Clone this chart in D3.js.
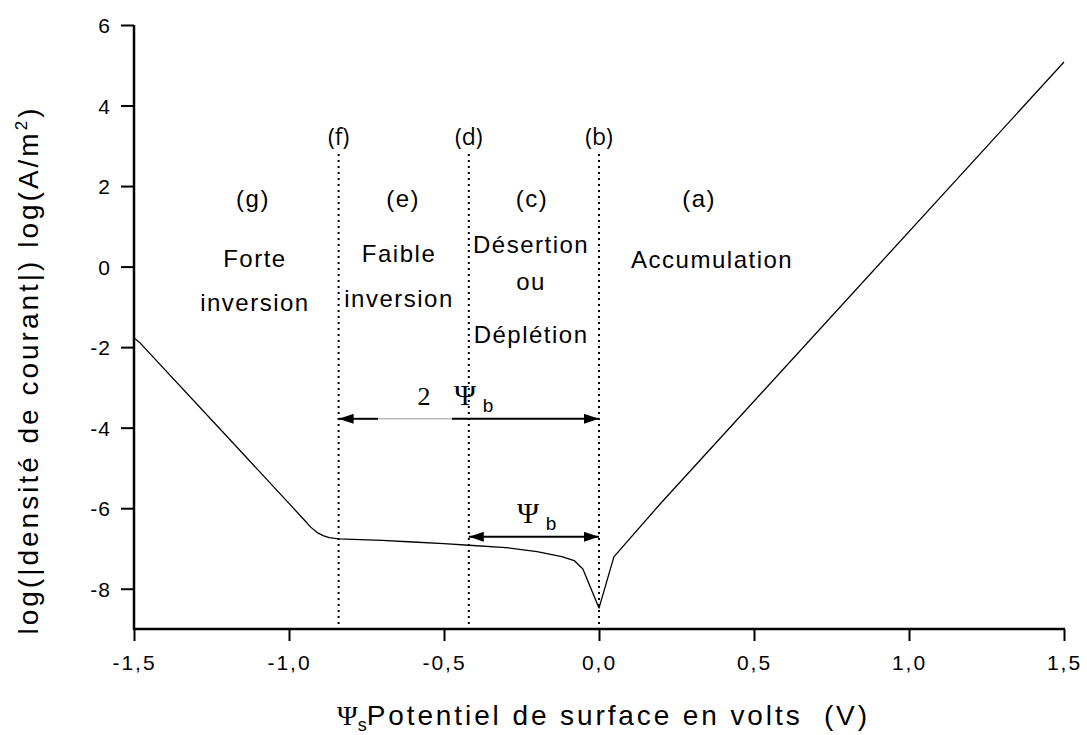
<!DOCTYPE html>
<html>
<head>
<meta charset="utf-8">
<script src="https://cdn.jsdelivr.net/npm/d3@7"></script>
<style>
  body { margin: 0; background: #fff; }
  svg { display: block; }
  text { font-family: "Liberation Sans", Arial, sans-serif; fill: #000; }
</style>
</head>
<body>
<svg id="chart" width="1087" height="735"></svg>
<script>
// ---- data ----
const curveX = [-1.5, -1.48, -1.2, -1.0, -0.95, -0.93, -0.91, -0.89, -0.87, -0.84, -0.7, -0.6, -0.5, -0.42, -0.3, -0.2, -0.12, -0.08, -0.052, 0.0, 0.048, 0.1, 0.2, 1.5];
const curveY = [-1.77, -1.9, -4.22, -5.88, -6.3, -6.47, -6.6, -6.68, -6.73, -6.76, -6.8, -6.84, -6.88, -6.92, -6.98, -7.08, -7.2, -7.3, -7.51, -8.48, -7.21, -6.75, -5.87, 5.08];

const xMajorTicks = [-1.5, -1.0, -0.5, 0.0, 0.5, 1.0, 1.5];
const xTickLabels = ["-1,5", "-1,0", "-0,5", "0,0", "0,5", "1,0", "1,5"];
const xMinorTicks = [-1.25, -0.75, -0.25, 0.25, 0.75, 1.25];
const yMajorTicks = [-8, -6, -4, -2, 0, 2, 4, 6];
const yTickLabels = ["-8", "-6", "-4", "-2", "0", "2", "4", "6"];
const yMinorTicks = [-9, -7, -5, -3, -1, 1, 3, 5];

const boundaryX = [-0.84, -0.42, 0.0];
const boundaryLabels = ["(f)", "(d)", "(b)"];

const regionLetters = ["(g)", "(e)", "(c)", "(a)"];
const regionLetterX = [-1.116, -0.632, -0.216, 0.323];
const regionLines = [["Forte", "inversion"], ["Faible", "inversion"], ["Désertion", "ou", "Déplétion"], ["Accumulation"]];
const regionLineX = [-1.11, -0.645, -0.219, 0.365];

// arrows: [x1, x2, y]
const arrowSpans = [[-0.84, 0.0, -3.78], [-0.42, 0.0, -6.71]];

// ---- layout ----
const svg = d3.select("#chart");
const x = d3.scaleLinear().domain([-1.5, 1.5]).range([134, 1064]);
const y = d3.scaleLinear().domain([-9, 6]).range([629, 25]);

const defs = svg.append("defs");
defs.append("marker").attr("id", "head").attr("viewBox", "0 0 15 10")
  .attr("refX", 15).attr("refY", 5).attr("markerWidth", 15).attr("markerHeight", 10)
  .attr("markerUnits", "userSpaceOnUse").attr("orient", "auto-start-reverse")
  .append("path").attr("d", "M0,0 L15,5 L0,10 Z").attr("fill", "#000");

// dotted boundary lines
svg.selectAll("line.bound").data(boundaryX).enter().append("line")
  .attr("x1", d => x(d)).attr("x2", d => x(d))
  .attr("y1", 154).attr("y2", y(-9))
  .attr("stroke", "#000").attr("stroke-width", 2).attr("stroke-dasharray", "2,4");

svg.selectAll("text.blab").data(boundaryX).enter().append("text")
  .attr("x", d => x(d)).attr("y", 145).attr("text-anchor", "middle")
  .style("font-family", "'Open Sans', 'DejaVu Sans', sans-serif")
  .style("font-size", "23px").text((d, i) => boundaryLabels[i]);

// region labels
svg.selectAll("text.rl").data(regionLetterX).enter().append("text")
  .attr("x", d => x(d)).attr("y", 207).attr("text-anchor", "middle")
  .style("font-size", "24px").style("letter-spacing", "1.5px")
  .text((d, i) => regionLetters[i]);

const lineYs = [[267, 311], [262, 307], [253, 290, 343], [268]];
regionLines.forEach((lines, i) => {
  lines.forEach((t, j) => {
    svg.append("text").attr("x", x(regionLineX[i])).attr("y", lineYs[i][j])
      .attr("text-anchor", "middle").style("font-size", "24px").style("letter-spacing", "1.5px")
      .text(t);
  });
});

// curve
const pts = curveX.map((v, i) => [v, curveY[i]]);
svg.append("path").datum(pts)
  .attr("d", d3.line().x(d => x(d[0])).y(d => y(d[1])))
  .attr("fill", "none").attr("stroke", "#000").attr("stroke-width", 1.3)
  .attr("stroke-linejoin", "round");

// arrows
const a0 = arrowSpans[0];
svg.append("line").attr("x1", x(a0[0]) + 10).attr("x2", x(a0[0])).attr("y1", y(a0[2])).attr("y2", y(a0[2]))
  .attr("stroke", "#000").attr("stroke-width", 2).attr("marker-end", "url(#head)");
svg.append("line").attr("x1", x(a0[0]) + 10).attr("x2", 378).attr("y1", y(a0[2])).attr("y2", y(a0[2]))
  .attr("stroke", "#000").attr("stroke-width", 2);
svg.append("line").attr("x1", 378).attr("x2", 452).attr("y1", y(a0[2])).attr("y2", y(a0[2]))
  .attr("stroke", "#999").attr("stroke-width", 1);
svg.append("line").attr("x1", 452).attr("x2", x(a0[1])).attr("y1", y(a0[2])).attr("y2", y(a0[2]))
  .attr("stroke", "#000").attr("stroke-width", 2).attr("marker-end", "url(#head)");

const a1 = arrowSpans[1];
svg.append("line").attr("x1", x(a1[0])).attr("x2", x(a1[1])).attr("y1", y(a1[2])).attr("y2", y(a1[2]))
  .attr("stroke", "#000").attr("stroke-width", 2)
  .attr("marker-start", "url(#head)").attr("marker-end", "url(#head)");

// arrow labels
const serif = "'Liberation Serif', 'Times New Roman', serif";
svg.append("text").attr("x", 424).attr("y", 405).attr("text-anchor", "middle")
  .style("font-family", serif).style("font-size", "26px").text("2");
svg.append("text").attr("x", 465).attr("y", 405).attr("text-anchor", "middle")
  .style("font-family", serif).style("font-size", "30px").text("Ψ");
svg.append("text").attr("x", 488).attr("y", 412).attr("text-anchor", "middle")
  .style("font-size", "19px").text("b");
svg.append("text").attr("x", 528).attr("y", 523).attr("text-anchor", "middle")
  .style("font-family", serif).style("font-size", "30px").text("Ψ");
svg.append("text").attr("x", 551).attr("y", 530).attr("text-anchor", "middle")
  .style("font-size", "19px").text("b");

// axes
const gx = svg.append("g").attr("transform", `translate(0,${y(-9)})`);
gx.call(d3.axisBottom(x).tickValues(xMinorTicks).tickSize(6).tickFormat("").tickSizeOuter(0));
gx.call(d3.axisBottom(x).tickValues(xMajorTicks).tickSize(12).tickSizeOuter(0)
  .tickFormat((d, i) => xTickLabels[i]).tickPadding(8));
gx.selectAll("path.domain").attr("stroke-width", 2.5).attr("d", `M${x(-1.5) - 1},0H${x(1.5) + 1}`);
gx.selectAll("line").attr("stroke-width", 2);
gx.selectAll("text").attr("dy", null).attr("y", 41)
  .style("font-size", "21px").style("letter-spacing", "2px").style("font-family", "'Liberation Sans', Arial, sans-serif");

const gy = svg.append("g").attr("transform", `translate(${x(-1.5)},0)`);
gy.call(d3.axisLeft(y).tickValues(yMinorTicks).tickSize(7).tickFormat("").tickSizeOuter(0));
gy.call(d3.axisLeft(y).tickValues(yMajorTicks).tickSize(13).tickSizeOuter(0)
  .tickFormat((d, i) => yTickLabels[i]).tickPadding(10));
gy.selectAll("path.domain").attr("stroke-width", 2.5).attr("d", `M0,${y(6)}V${y(-9) + 1}`);
gy.selectAll("line").attr("stroke-width", 2);
gy.selectAll("text").attr("x", -23).attr("dy", "0.36em")
  .style("font-size", "21px").style("letter-spacing", "1px").style("font-family", "'Liberation Sans', Arial, sans-serif");

// x title
const xt = svg.append("text").attr("x", 337).attr("y", 725).attr("text-anchor", "start");
xt.append("tspan").style("font-family", serif).style("font-size", "28px").text("Ψ");
xt.append("tspan").attr("dy", 6).style("font-size", "18px").text("s");
xt.append("tspan").attr("dy", -6).style("font-size", "28px").style("letter-spacing", "2.9px")
  .text("Potentiel de surface en volts\u00a0\u00a0(V)");

// y title
const yt = svg.append("text").attr("transform", "translate(38,370) rotate(-90)")
  .attr("text-anchor", "middle").style("font-size", "28px").style("letter-spacing", "3px");
yt.append("tspan").text("log(|densité de courant|) log(A/m");
yt.append("tspan").attr("dy", -11).style("font-size", "17px").text("2");
yt.append("tspan").attr("dy", 11).text(")");
</script>
</body>
</html>
